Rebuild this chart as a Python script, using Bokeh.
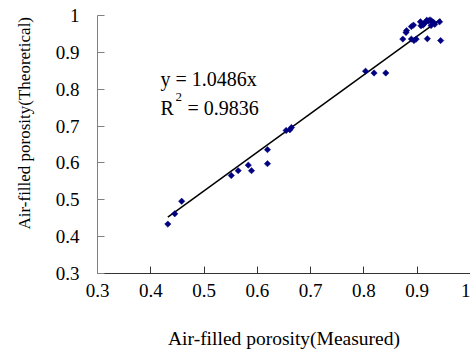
import math
from bokeh.plotting import figure
from bokeh.models import Range1d, FixedTicker, NumeralTickFormatter, ColumnDataSource, Label
from bokeh.embed import file_html
from bokeh.resources import INLINE

# Data
measured = [0.432, 0.445, 0.458, 0.551, 0.564, 0.583, 0.589, 0.619, 0.619, 0.654, 0.664, 0.661,
            0.803, 0.819, 0.841,
            0.873, 0.879, 0.880, 0.889, 0.893, 0.889, 0.894, 0.898, 0.906, 0.907, 0.911,
            0.915, 0.918, 0.921, 0.924, 0.927, 0.931, 0.926, 0.919, 0.942, 0.944, 0.913, 0.933]
theoretical = [0.434, 0.462, 0.496, 0.566, 0.579, 0.594, 0.579, 0.636, 0.598, 0.688, 0.696, 0.690,
               0.849, 0.844, 0.844,
               0.936, 0.954, 0.959, 0.970, 0.974, 0.936, 0.932, 0.936, 0.983, 0.972, 0.974,
               0.981, 0.987, 0.985, 0.988, 0.985, 0.981, 0.973, 0.937, 0.983, 0.932, 0.978, 0.976]
slope = 1.0486
r2 = 0.9836
ticks = [0.3, 0.4, 0.5, 0.6, 0.7, 0.8, 0.9, 1.0]
x_title = "Air-filled porosity(Measured)"
y_title = "Air-filled porosity(Theoretical)"

FONT = "Liberation Serif"

p = figure(width=470, height=354, output_backend="svg", toolbar_location=None,
           x_range=Range1d(0.3, 1.0), y_range=Range1d(0.3, 1.0),
           min_border_top=15, min_border_right=0, min_border_left=97, min_border_bottom=81)
p.outline_line_color = None
p.xgrid.visible = False
p.ygrid.visible = False
p.background_fill_color = "white"
p.border_fill_color = "white"

for ax in (p.xaxis[0], p.yaxis[0]):
    ax.ticker = FixedTicker(ticks=ticks)
    ax.formatter = NumeralTickFormatter(format="0.[0]")
    ax.major_tick_in = 7
    ax.major_tick_out = 0
    ax.minor_tick_in = 0
    ax.minor_tick_out = 0
    ax.major_label_text_font = FONT
    ax.major_label_text_font_size = "19px"
    ax.major_label_text_color = "black"
    ax.axis_label_text_font = FONT
    ax.axis_label_text_font_style = "normal"
    ax.axis_label_text_color = "black"

p.xaxis.axis_line_color = "#333333"
p.xaxis.major_tick_line_color = "#333333"
p.xaxis.major_label_standoff = 10
p.xaxis.axis_label = x_title
p.xaxis.axis_label_text_font_size = "19.5px"
p.xaxis.axis_label_standoff = 28

p.yaxis.axis_line_color = "#808080"
p.yaxis.major_tick_line_color = "#808080"
p.yaxis.major_label_standoff = 18
# leading en-spaces lift the centred title, as it sits above the frame centre in the reference
p.yaxis.axis_label = "\u2002" * 5 + y_title
p.yaxis.axis_label_text_font_size = "17px"
p.yaxis.axis_label_standoff = 19

# trendline through origin, spanning the data range
xmin, xmax = min(measured), max(measured)
p.line([xmin, xmax], [slope * xmin, slope * xmax], line_color="black", line_width=1.5)

src = ColumnDataSource(dict(x=measured, y=theoretical))
p.scatter("x", "y", source=src, marker="square", angle=math.pi / 4, size=4.5,
          fill_color="#000080", line_color="#000080", line_width=0.5)

p.add_layout(Label(x=0.418, y=0.829, text=f"y = {slope:.4f}x", text_font=FONT,
                   text_font_size="20px", text_color="black", text_baseline="alphabetic"))
p.add_layout(Label(x=0.418, y=0.750, text="R", text_font=FONT,
                   text_font_size="20px", text_color="black", text_baseline="alphabetic"))
p.add_layout(Label(x=0.418, y=0.750, x_offset=15, y_offset=11, text="2", text_font=FONT,
                   text_font_size="13px", text_color="black", text_baseline="alphabetic"))
p.add_layout(Label(x=0.418, y=0.750, x_offset=27, text=f"= {r2:.4f}", text_font=FONT,
                   text_font_size="20px", text_color="black", text_baseline="alphabetic"))

open("out.html", "w").write(file_html(p, INLINE))
